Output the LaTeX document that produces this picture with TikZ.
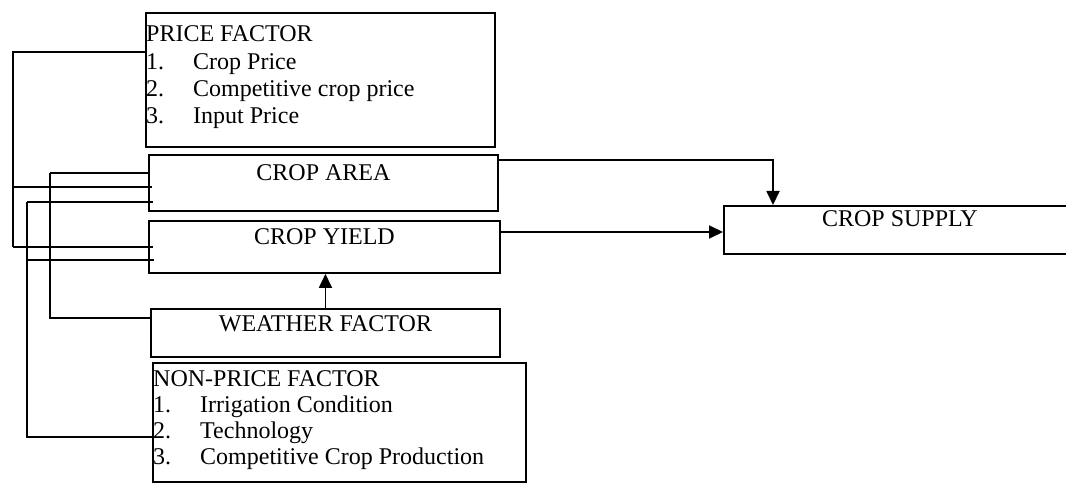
\documentclass[tikz,border=0pt]{standalone}
\usepackage{fontspec}
\setmainfont{Liberation Serif}
\usetikzlibrary{arrows.meta}
\def\itemno#1{\makebox[47pt][l]{#1}}

\begin{document}
\begin{tikzpicture}[x=1pt,y=-1pt,
					font=\fontsize{24}{27.3}\selectfont,
					factorbox/.style={draw,line width=1.9pt,inner sep=0pt,anchor=north west},
					feed/.style={line width=1.8pt},
					branch/.style={line width=1.1pt},
					tip/.style={line width=1.8pt,-{Triangle[length=14pt,width=13pt]}}]
				\useasboundingbox (0,0) rectangle (1066,484);
				\node[factorbox,minimum width=349pt,minimum height=134pt] (pricebox) at (145,12) {};
				\node[anchor=base west,inner sep=0pt] (pricetext) at (146,42)
					{\begin{tabular}[t]{@{}l@{}}
					PRICE FACTOR\\
					\itemno{1.}Crop Price\\
					\itemno{2.}Competitive crop price\\
					\itemno{3.}Input Price
					\end{tabular}};
				\node[factorbox,minimum width=349pt,text height=26pt,text depth=30pt] (area) at (148,154) {CROP AREA};
				\node[factorbox,minimum width=351pt,text height=24pt,text depth=28pt] (yield) at (148,220) {CROP YIELD};
				\node[factorbox,minimum width=349pt,text height=23pt,text depth=25pt] (weather) at (150,308) {WEATHER FACTOR};
				\node[factorbox,minimum width=373pt,minimum height=119pt] (nonpricebox) at (152,362) {};
				\node[anchor=base west,inner sep=0pt,font=\fontsize{24}{26.3}\selectfont] (nonpricetext) at (153,386)
					{\begin{tabular}[t]{@{}l@{}}
					NON-PRICE FACTOR\\
					\itemno{1.}Irrigation Condition\\
					\itemno{2.}Technology\\
					\itemno{3.}Competitive Crop Production
					\end{tabular}};
				\node[factorbox,minimum width=352pt,text height=21pt,text depth=27pt] (supply) at (723,205) {CROP SUPPLY};
				\coordinate (areain1) at ([yshift=-19pt]area.north west);
				\coordinate (areain2) at ([yshift=-33pt]area.north west);
				\coordinate (areain3) at ([yshift=-48pt]area.north west);
				\coordinate (yieldin1) at ([yshift=-27pt]yield.north west);
				\coordinate (yieldin2) at ([yshift=-40pt]yield.north west);
				\coordinate (pricetrunk) at (13,0);
				\coordinate (nonpricetrunk) at (27,0);
				\coordinate (weathertrunk) at (50,0);
				\coordinate (areaout) at ([yshift=-6pt]area.north east);
				\coordinate (yieldout) at ([yshift=-12pt]yield.north east);
				\draw[feed] ([yshift=-40pt]pricebox.north west) -| (pricetrunk |- yieldin1);
				\draw[branch,shorten >=-5pt] (pricetrunk |- yieldin1) -- (yieldin1);
				\draw[branch,shorten >=-4pt] (pricetrunk |- areain2) -- (areain2);
				\draw[feed] ([yshift=-10pt]weather.north west) -| (weathertrunk |- areain1);
				\draw[branch] (weathertrunk |- areain1) -- (areain1);
				\draw[feed] ([yshift=-75pt]nonpricebox.north west) -| (nonpricetrunk |- areain3);
				\draw[branch,shorten >=-5pt] (nonpricetrunk |- areain3) -- (areain3);
				\draw[branch,shorten >=-6pt] (nonpricetrunk |- yieldin2) -- (yieldin2);
				\draw[tip] (areaout) -| ([xshift=50pt]supply.north west);
				\draw[tip] (yieldout) -- (yieldout -| supply.west);
				\draw[tip] (weather.north) -- (weather.north |- yield.south);
			\end{tikzpicture}
\end{document}
